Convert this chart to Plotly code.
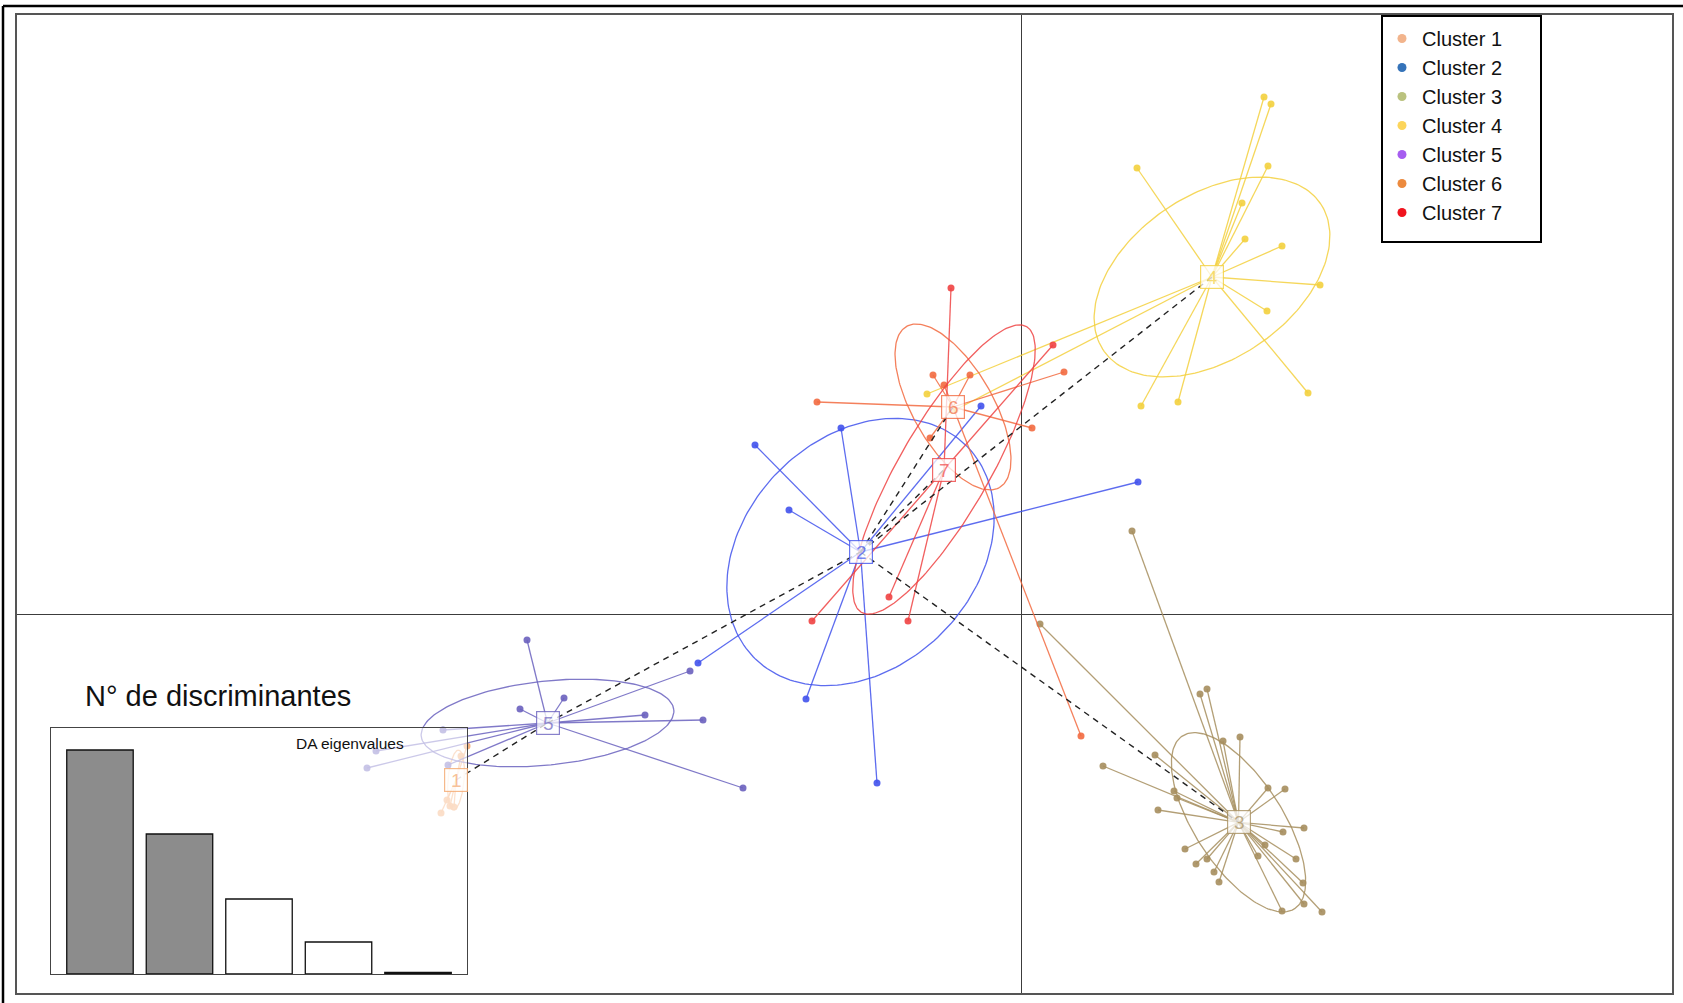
import numpy as np
import plotly.graph_objects as go

W, H = 1683, 1003

# ---- data -------------------------------------------------------------
cluster_names = [f"Cluster {i}" for i in range(1, 8)]
legend_colors = ["#F2B48C", "#3573B9", "#BAC27E", "#FCD55B", "#A65DF0", "#EC8A3E", "#F0141E"]
plot_colors = ["#F4A76E", "#4152EC", "#A68E5E", "#F3D03E", "#6A61BE", "#F26A40", "#EF4343"]

# group centroids on the first two discriminant functions
center_ld1 = [-5.655, -1.61, 2.17, 1.905, -4.74, -0.685, -0.775]
center_ld2 = [-1.655, 0.625, -2.078, 3.375, -1.085, 2.075, 1.45]

# individual scores, one pair of lists per cluster
c1_ld1 = [-5.545, -5.605, -5.805, -5.715, -5.675, -5.745]
c1_ld2 = [-1.315, -1.415, -1.985, -1.915, -1.925, -1.855]

c2_ld1 = [-2.665, -1.805, -2.325, -0.405, 1.165, -3.235, -2.155, -1.445]
c2_ld2 = [1.695, 1.865, 1.045, 2.085, 1.325, -0.485, -0.845, -1.685]

c3_ld1 = [1.105, 0.185, 0.815, 1.785, 1.855, 2.015, 2.185, 1.335, 1.555, 1.525,
          1.365, 1.635, 1.745, 1.855, 1.925, 1.975, 2.465, 2.635, 2.825, 2.615,
          2.745, 2.365, 2.435, 2.815, 2.825, 2.605, 3.005]
c3_ld2 = [0.835, -0.095, -1.515, -0.795, -0.745, -1.265, -1.225, -1.405, -1.835, -1.765,
          -1.955, -2.345, -2.495, -2.445, -2.575, -2.675, -1.735, -1.745, -2.135, -2.175,
          -2.445, -2.415, -2.305, -2.685, -2.895, -2.965, -2.975]

c4_ld1 = [2.425, 2.495, 1.155, 2.465, 2.205, 2.235, 2.605, 2.985, 2.455, 2.865,
          1.195, 1.565, -0.945, -0.665]
c4_ld2 = [5.175, 5.105, 4.465, 4.485, 4.115, 3.755, 3.685, 3.295, 3.035, 2.215,
          2.085, 2.125, 2.205, 2.045]

c5_ld1 = [-4.945, -4.575, -5.015, -3.765, -3.185, -3.315, -2.785, -5.785, -6.455, -6.545, -5.735]
c5_ld2 = [-0.255, -0.835, -0.945, -1.005, -1.055, -0.565, -1.735, -1.155, -1.365, -1.535, -1.505]

c6_ld1 = [-2.045, -0.885, -0.515, -0.775, -0.915, 0.105, 0.425, 0.595]
c6_ld2 = [2.125, 2.395, 2.395, 2.295, 1.765, 1.865, 2.425, -1.215]

c7_ld1 = [-0.705, 0.315, -1.325, -1.135, -2.095]
c7_ld2 = [3.265, 2.695, 0.175, -0.065, -0.065]

scores_ld1 = [c1_ld1, c2_ld1, c3_ld1, c4_ld1, c5_ld1, c6_ld1, c7_ld1]
scores_ld2 = [c1_ld2, c2_ld2, c3_ld2, c4_ld2, c5_ld2, c6_ld2, c7_ld2]

# inertia ellipses: semi-axes and orientation (degrees)
ellipse_a = [0.30, 1.50, 1.03, 1.31, 1.27, 0.93, 1.65]
ellipse_b = [0.08, 1.15, 0.44, 0.82, 0.42, 0.40, 0.45]
ellipse_angle = [85, 45, -57, 34, 6, -60, 60]

# minimum spanning tree between centroids (cluster numbers)
mst_from = [1, 5, 2, 2, 2, 2]
mst_to = [5, 2, 6, 7, 4, 3]

# discriminant analysis eigenvalues; the first n_retained are kept
eigenvalues = [224, 140, 75, 32, 1.5]
n_retained = 2

# ---- figure -----------------------------------------------------------
fig = go.Figure()
px_per_unit = 100.0
x_range = [(17 - 1021.5) / px_per_unit, (1672 - 1021.5) / px_per_unit]
y_range = [(614.5 - 993) / px_per_unit, (614.5 - 15) / px_per_unit]


def rgba(hex_color, alpha):
    h = hex_color.lstrip("#")
    r, g, b = int(h[0:2], 16), int(h[2:4], 16), int(h[4:6], 16)
    return f"rgba({r},{g},{b},{alpha})"


t = np.linspace(0, 2 * np.pi, 200)
for k in range(7):
    col = plot_colors[k]
    cx, cy = center_ld1[k], center_ld2[k]
    th = np.deg2rad(ellipse_angle[k])
    ex = cx + ellipse_a[k] * np.cos(t) * np.cos(th) - ellipse_b[k] * np.sin(t) * np.sin(th)
    ey = cy + ellipse_a[k] * np.cos(t) * np.sin(th) + ellipse_b[k] * np.sin(t) * np.cos(th)
    fig.add_trace(go.Scatter(x=ex, y=ey, mode="lines", line=dict(color=rgba(col, 0.85), width=1.3),
                             showlegend=False, hoverinfo="skip"))
    sx, sy = [], []
    for x, y in zip(scores_ld1[k], scores_ld2[k]):
        sx += [cx, x, None]
        sy += [cy, y, None]
    fig.add_trace(go.Scatter(x=sx, y=sy, mode="lines", line=dict(color=rgba(col, 0.85), width=1.3),
                             showlegend=False, hoverinfo="skip"))
    fig.add_trace(go.Scatter(x=scores_ld1[k], y=scores_ld2[k], mode="markers",
                             marker=dict(color=rgba(col, 0.9), size=7, line=dict(width=0)),
                             showlegend=False, name=cluster_names[k]))

# dashed spanning tree between centroids
mx, my = [], []
for a, b in zip(mst_from, mst_to):
    mx += [center_ld1[a - 1], center_ld1[b - 1], None]
    my += [center_ld2[a - 1], center_ld2[b - 1], None]
fig.add_trace(go.Scatter(x=mx, y=my, mode="lines", line=dict(color="#222222", width=1.4, dash="6px,5px"),
                         showlegend=False, hoverinfo="skip"))

# legend entries
for k in range(7):
    fig.add_trace(go.Scatter(x=[None], y=[None], mode="markers", name=cluster_names[k],
                             marker=dict(color=legend_colors[k], size=9), showlegend=True))

# eigenvalue inset
bar_colors = ["#8C8C8C" if i < n_retained else "white" for i in range(len(eigenvalues))]
fig.add_trace(go.Bar(x=list(range(1, len(eigenvalues) + 1)), y=eigenvalues, width=0.836,
                     marker=dict(color=bar_colors, line=dict(color="#111111", width=1.3)),
                     xaxis="x2", yaxis="y2", showlegend=False, hoverinfo="skip"))

# centroid labels
annotations = []
for k in range(7):
    col = plot_colors[k]
    annotations.append(dict(
        x=center_ld1[k], y=center_ld2[k], xref="x", yref="y", text=str(k + 1), showarrow=False,
        font=dict(family="Liberation Sans, Arial, sans-serif", size=19, color=rgba(col, 0.7)),
        bgcolor="rgba(255,255,255,0.75)", bordercolor=rgba(col, 0.8), borderwidth=1.2,
        borderpad=1, width=20, height=20))

annotations.append(dict(x=83 / W, y=1 - 696 / H, xref="paper", yref="paper", xanchor="left",
                        yanchor="middle", showarrow=False, text="N° de discriminantes",
                        font=dict(family="Liberation Sans, Arial, sans-serif", size=29, color="#111111")))
annotations.append(dict(x=350 / W, y=1 - 743 / H, xref="paper", yref="paper", xanchor="center",
                        yanchor="middle", showarrow=False, text="DA eigenvalues",
                        font=dict(family="Liberation Sans, Arial, sans-serif", size=15.5, color="#111111")))

shapes = [
    # legend frame
    dict(type="rect", xref="paper", yref="paper", x0=1382 / W, x1=1541 / W, y0=1 - 242 / H, y1=1 - 16 / H,
         line=dict(color="#000000", width=2), layer="above"),
    # outer border (top and left)
    dict(type="line", xref="paper", yref="paper", x0=3 / W, x1=1, y0=1 - 6 / H, y1=1 - 6 / H,
         line=dict(color="#000000", width=2.5)),
    dict(type="line", xref="paper", yref="paper", x0=3 / W, x1=3 / W, y0=0, y1=1 - 6 / H,
         line=dict(color="#000000", width=2.5)),
]

axis_common = dict(showgrid=False, showticklabels=False, ticks="", showline=True, mirror=True)

fig.update_layout(
    width=W, height=H, margin=dict(l=0, r=0, t=0, b=0),
    paper_bgcolor="white", plot_bgcolor="rgba(255,255,255,0.6)",
    font=dict(family="Liberation Sans, Arial, sans-serif", color="#111111"),
    xaxis=dict(range=x_range, domain=[17 / W, 1672 / W], zeroline=True, zerolinecolor="#3C3C3C",
               zerolinewidth=1.3, linecolor="#555555", linewidth=1.6, **axis_common),
    yaxis=dict(range=y_range, domain=[1 - 993 / H, 1 - 15 / H], zeroline=True, zerolinecolor="#3C3C3C",
               zerolinewidth=1.3, linecolor="#555555", linewidth=1.6, **axis_common),
    xaxis2=dict(range=[0.384, 5.616], domain=[51 / W, 467 / W], anchor="y2", zeroline=False,
                linecolor="#444444", linewidth=1.3, **axis_common),
    yaxis2=dict(range=[0, 246], domain=[1 - 974 / H, 1 - 728 / H], anchor="x2", zeroline=False,
                linecolor="#444444", linewidth=1.3, **axis_common),
    legend=dict(x=1382 / W, y=1 - 19 / H, xanchor="left", yanchor="top", bgcolor="rgba(0,0,0,0)",
                borderwidth=0, font=dict(size=20, color="#111111")),
    annotations=annotations, shapes=shapes, showlegend=True,
)

fig.write_html("out.html")
